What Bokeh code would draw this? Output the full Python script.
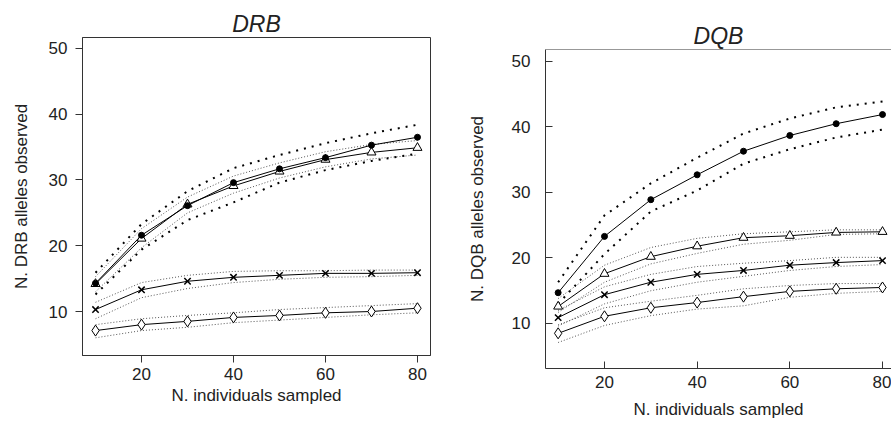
from bokeh.plotting import figure
from bokeh.layouts import row, column
from bokeh.models import FixedTicker, Span
from bokeh.embed import file_html
from bokeh.resources import INLINE

# ---- data ----
n_sampled = [10, 20, 30, 40, 50, 60, 70, 80]
x_ticks = [20, 40, 60, 80]
y_ticks = [10, 20, 30, 40, 50]

# DRB panel
drb_circle = [14.3, 21.6, 26.1, 29.6, 31.7, 33.4, 35.3, 36.5]
drb_circle_hi = [15.9, 23.3, 28.3, 31.8, 33.8, 35.6, 37.1, 38.4]
drb_circle_lo = [12.6, 19.4, 23.9, 26.6, 29.6, 31.5, 32.9, 34.0]
drb_triangle = [14.2, 21.1, 26.3, 29.1, 31.3, 33.1, 34.2, 34.9]
drb_triangle_hi = [15.3, 22.6, 27.4, 30.6, 32.6, 34.3, 35.4, 36.0]
drb_triangle_lo = [13.0, 19.7, 25.0, 28.0, 30.3, 32.0, 33.2, 33.8]
drb_cross = [10.3, 13.3, 14.6, 15.2, 15.5, 15.8, 15.8, 15.9]
drb_cross_hi = [11.4, 14.4, 15.5, 16.1, 16.2, 16.2, 16.3, 16.3]
drb_cross_lo = [8.9, 12.1, 13.5, 14.4, 14.9, 15.2, 15.3, 15.5]
drb_diamond = [7.1, 8.0, 8.5, 9.1, 9.4, 9.8, 10.0, 10.5]
drb_diamond_hi = [8.0, 8.9, 9.4, 9.8, 10.3, 10.6, 10.9, 11.2]
drb_diamond_lo = [6.0, 7.1, 7.6, 8.3, 8.7, 9.1, 9.5, 9.8]

# DQB panel
dqb_circle = [14.7, 23.3, 28.9, 32.7, 36.3, 38.7, 40.5, 41.9]
dqb_circle_hi = [16.3, 26.5, 31.4, 35.3, 39.0, 41.3, 43.0, 43.9]
dqb_circle_lo = [13.0, 20.6, 27.1, 30.3, 34.4, 36.6, 38.4, 39.6]
dqb_triangle = [12.6, 17.6, 20.2, 21.8, 23.1, 23.4, 23.9, 24.0]
dqb_triangle_hi = [13.8, 18.9, 21.6, 23.0, 23.7, 24.0, 24.3, 24.3]
dqb_triangle_lo = [11.7, 16.3, 19.1, 20.7, 22.1, 22.7, 23.6, 23.7]
dqb_cross = [10.9, 14.4, 16.3, 17.5, 18.1, 18.9, 19.3, 19.6]
dqb_cross_hi = [12.0, 15.6, 17.5, 18.7, 19.2, 19.6, 20.1, 20.1]
dqb_cross_lo = [9.6, 13.0, 15.0, 16.3, 17.2, 18.1, 18.7, 19.0]
dqb_diamond = [8.5, 11.1, 12.4, 13.2, 14.1, 14.9, 15.3, 15.5]
dqb_diamond_hi = [9.8, 12.4, 13.4, 14.3, 15.3, 15.8, 16.1, 16.1]
dqb_diamond_lo = [7.1, 9.7, 11.2, 12.2, 12.7, 14.0, 14.6, 14.9]

FONT = "Liberation Sans"
AX = "#333333"
TXT = "#222222"


def style(p, title, ylabel, ticks_in, lbl_standoff, ax_lbl_standoff, y_lbl_standoff, y_ax_lbl_standoff, title_standoff):
    p.title.text = title
    p.title.align = "center"
    p.title.text_font = FONT
    p.title.text_font_size = "23px"
    p.title.text_font_style = "italic"
    p.title.text_color = TXT
    p.title.standoff = title_standoff
    p.xgrid.grid_line_color = None
    p.ygrid.grid_line_color = None
    p.xaxis.ticker = FixedTicker(ticks=x_ticks)
    p.yaxis.ticker = FixedTicker(ticks=y_ticks)
    p.xaxis.axis_label = "N. individuals sampled"
    p.yaxis.axis_label = ylabel
    for ax in (p.xaxis, p.yaxis):
        ax.axis_line_color = AX
        ax.major_tick_line_color = AX
        ax.minor_tick_line_color = None
        ax.major_tick_out = 0 if ticks_in else 7
        ax.major_tick_in = 7 if ticks_in else 0
        ax.major_label_text_font = FONT
        ax.major_label_text_font_size = "17px"
        ax.major_label_text_color = TXT
        ax.axis_label_text_font = FONT
        ax.axis_label_text_font_size = "17px"
        ax.axis_label_text_font_style = "normal"
        ax.axis_label_text_color = TXT
    p.xaxis.major_label_standoff = lbl_standoff
    p.xaxis.axis_label_standoff = ax_lbl_standoff
    p.yaxis.major_label_standoff = y_lbl_standoff
    p.yaxis.axis_label_standoff = y_ax_lbl_standoff


def draw(p, x, series):
    # series: list of (mean, hi, lo, marker, bold_ci)
    for mean, hi, lo, marker, bold in series:
        for band in (hi, lo):
            if bold:
                p.line(x, band, line_color="black", line_width=2, line_dash="2 6")
            else:
                p.line(x, band, line_color="#555555", line_width=1, line_dash="1 2")
    for mean, hi, lo, marker, bold in series:
        p.line(x, mean, line_color="black", line_width=1)
    for mean, hi, lo, marker, bold in series:
        if marker == "circle":
            p.scatter(x, mean, marker="circle", size=6, fill_color="black", line_color="black")
        elif marker == "triangle":
            p.scatter(x, mean, marker="triangle", size=9, fill_color="white", line_color="black", line_width=1)
        elif marker == "x":
            p.scatter(x, mean, marker="x", size=9, line_color="black", line_width=1.5)
        else:
            p.scatter(x, mean, marker="diamond", size=11, fill_color="white", line_color="black", line_width=1)


p1 = figure(frame_width=348, frame_height=318, min_border_left=82, min_border_right=15,
            min_border_top=37, min_border_bottom=69, x_range=(7.17, 82.83), y_range=(3.31, 51.67),
            output_backend="svg", toolbar_location=None)
p1.outline_line_color = AX
style(p1, "DRB", "N. DRB alleles observed", False, 5, 3, 8, 15, 1)
draw(p1, n_sampled, [
    (drb_diamond, drb_diamond_hi, drb_diamond_lo, "diamond", False),
    (drb_cross, drb_cross_hi, drb_cross_lo, "x", False),
    (drb_triangle, drb_triangle_hi, drb_triangle_lo, "triangle", False),
    (drb_circle, drb_circle_hi, drb_circle_lo, "circle", True),
])

p2 = figure(frame_width=346, frame_height=319, min_border_left=100, min_border_right=0,
            min_border_top=49, min_border_bottom=56, x_range=(7.27, 81.94), y_range=(3.13, 51.83),
            output_backend="svg", toolbar_location=None)
p2.outline_line_color = None
p2.add_layout(Span(location=51.83, dimension="width", line_color=AX, line_width=1))
style(p2, "DQB", "N. DQB alleles observed", True, 7, 9, 15, 22, 2)
draw(p2, n_sampled, [
    (dqb_diamond, dqb_diamond_hi, dqb_diamond_lo, "diamond", False),
    (dqb_cross, dqb_cross_hi, dqb_cross_lo, "x", False),
    (dqb_triangle, dqb_triangle_hi, dqb_triangle_lo, "triangle", False),
    (dqb_circle, dqb_circle_hi, dqb_circle_lo, "circle", True),
])

layout = row(column(p1), column(p2))
open("out.html", "w").write(file_html(layout, INLINE))
